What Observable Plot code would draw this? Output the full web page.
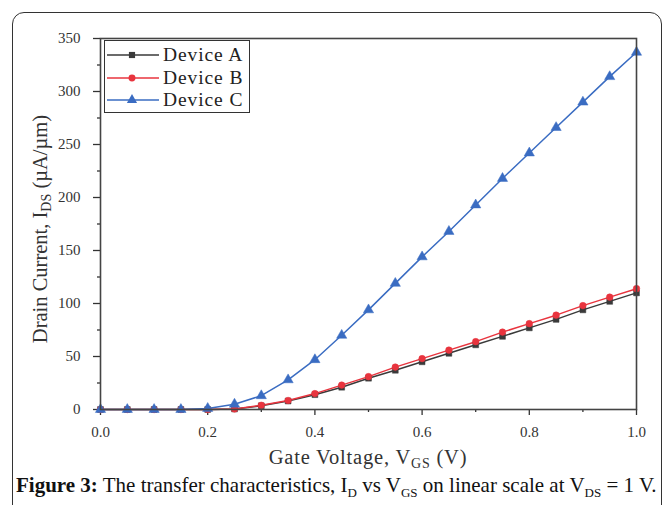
<!DOCTYPE html>
<html>
<head>
<meta charset="utf-8">
<script src="https://cdn.jsdelivr.net/npm/d3@7"></script>
<script src="https://cdn.jsdelivr.net/npm/@observablehq/plot@0.6"></script>
<style>
  html, body { margin: 0; padding: 0; background: #fff; }
  body { width: 671px; height: 505px; position: relative; overflow: hidden; font-family: "Liberation Serif", "Times New Roman", serif; color: #222; }
  #border { position: absolute; left: 12px; top: 12px; width: 648px; height: 520px; border: 1.5px solid #333; border-radius: 12px; }
  #chart { position: absolute; left: 0; top: 0; }
  .lbl { position: absolute; white-space: nowrap; font-size: 20.5px; color: #333; line-height: 1; }
  .lbl sub { font-size: 14px; vertical-align: -4px; line-height: 0; }
  #ylab { left: 40px; top: 229px; transform: translate(-50%, -50%) rotate(-90deg); }
  #xlab { left: 368px; top: 447px; transform: translateX(-50%); letter-spacing: 0.8px; }
  #caption { position: absolute; left: 16px; top: 475px; font-size: 21px; white-space: nowrap; color: #111; line-height: 1; }
  #caption sub { font-size: 13px; vertical-align: -5px; line-height: 0; }
  #legend { position: absolute; left: 104px; top: 40px; width: 144px; height: 71px; border: 1.5px solid #333; background: #fff; }
  .row { position: absolute; left: 0; height: 22px; display: flex; align-items: center; font-size: 19.5px; letter-spacing: 0.9px; color: #222; }
  .row svg { margin-left: 2px; margin-right: 4px; }
</style>
</head>
<body>
<div id="border"></div>
<div id="chart"></div>
<div id="legend"></div>
<div class="lbl" id="ylab">Drain Current, I<sub>DS</sub> (µA/µm)</div>
<div class="lbl" id="xlab">Gate Voltage, V<sub>GS</sub> (V)</div>
<div id="caption"><b>Figure 3:</b> The transfer characteristics, I<sub>D</sub> vs V<sub>GS</sub> on linear scale at V<sub>DS</sub> = 1 V.</div>
<script>
const vgs = [0, 0.05, 0.1, 0.15, 0.2, 0.25, 0.3, 0.35, 0.4, 0.45, 0.5, 0.55, 0.6, 0.65, 0.7, 0.75, 0.8, 0.85, 0.9, 0.95, 1.0];
const deviceA = [0, 0, 0, 0, 0, 0.5, 3.5, 8, 14, 21, 29.5, 37, 45, 53, 61, 69, 77, 85, 94, 102, 110];
const deviceB = [0, 0, 0, 0, 0, 0.5, 4, 8.5, 15, 23, 31, 40, 48, 56, 64, 73, 81, 89, 98, 106, 114];
const deviceC = [0, 0, 0, 0, 1, 5, 13, 28, 47, 70, 94, 119, 144, 168, 193, 218, 242, 266, 290, 314, 337];
const seriesNames = ["Device A", "Device B", "Device C"];
const seriesColors = ["#3a3a3a", "#e8343e", "#3a6cc2"];
const seriesSymbols = ["square", "circle", "triangle"];
const xTicks = [0, 0.2, 0.4, 0.6, 0.8, 1.0];
const xMinorTicks = [0.1, 0.3, 0.5, 0.7, 0.9];
const yTicks = [0, 50, 100, 150, 200, 250, 300, 350];
const yMinorTicks = [25, 75, 125, 175, 225, 275, 325];

const seriesValues = [deviceA, deviceB, deviceC];
const rows = [];
seriesNames.forEach((name, i) => {
  vgs.forEach((v, j) => rows.push({series: name, x: v, y: seriesValues[i][j]}));
});

const serif = "Liberation Serif";
const axisStyle = {stroke: "#333", strokeWidth: 1.3};
const plot = Plot.plot({
  width: 671,
  height: 470,
  marginLeft: 100,
  marginRight: 35,
  marginTop: 38,
  marginBottom: 61,
  style: {fontFamily: serif, fontSize: "15px", color: "#333", background: "transparent"},
  x: {domain: [0, 1]},
  y: {domain: [0, 350]},
  color: {domain: seriesNames, range: seriesColors},
  symbol: {domain: seriesNames, range: seriesSymbols},
  marks: [
    Plot.axisX({ticks: xTicks, tickFormat: d => d.toFixed(1), tickSize: 6, tickPadding: 11, label: null, fontFamily: serif, fontSize: 15, ...axisStyle, fill: "#333"}),
    Plot.axisX({ticks: xMinorTicks, tickFormat: () => "", tickSize: 3, label: null, ...axisStyle}),
    Plot.axisY({ticks: yTicks, tickFormat: d => String(d), tickSize: 7, tickPadding: 13, label: null, fontFamily: serif, fontSize: 15, ...axisStyle, fill: "#333"}),
    Plot.axisY({ticks: yMinorTicks, tickFormat: () => "", tickSize: 3, label: null, ...axisStyle}),
    ...seriesNames.map(name => Plot.line(rows.filter(r => r.series === name), {x: "x", y: "y", stroke: "series", strokeWidth: 1.5})),
    ...seriesNames.map(name => Plot.dot(rows.filter(r => r.series === name), {x: "x", y: "y", fill: "series", stroke: "series", strokeWidth: 0.5, symbol: "series", r: name === "Device C" ? 3.8 : 3.3})),
    Plot.frame({stroke: "#444", strokeWidth: 1.6})
  ]
});
d3.select(plot).attr("font-family", serif).style("font-family", serif);
d3.select(plot).selectAll("g").attr("font-family", serif);
d3.select(plot).selectAll("text").attr("font-family", serif).style("font-family", serif).attr("font-size", 15);
document.getElementById("chart").appendChild(plot);

// Legend
const legend = d3.select("#legend");
seriesNames.forEach((name, i) => {
  const row = legend.append("div").attr("class", "row").style("top", (3 + i * 22.5) + "px");
  const svg = row.append("svg").attr("width", 52).attr("height", 14);
  svg.append("line").attr("x1", 0).attr("x2", 52).attr("y1", 7).attr("y2", 7)
    .attr("stroke", seriesColors[i]).attr("stroke-width", 1.5);
  const sym = {square: d3.symbolSquare, circle: d3.symbolCircle, triangle: d3.symbolTriangle}[seriesSymbols[i]];
  svg.append("path").attr("d", d3.symbol(sym, i === 2 ? 45 : 38)()).attr("transform", "translate(25,7)")
    .attr("fill", seriesColors[i]);
  row.append("span").text(name);
});
</script>
</body>
</html>
